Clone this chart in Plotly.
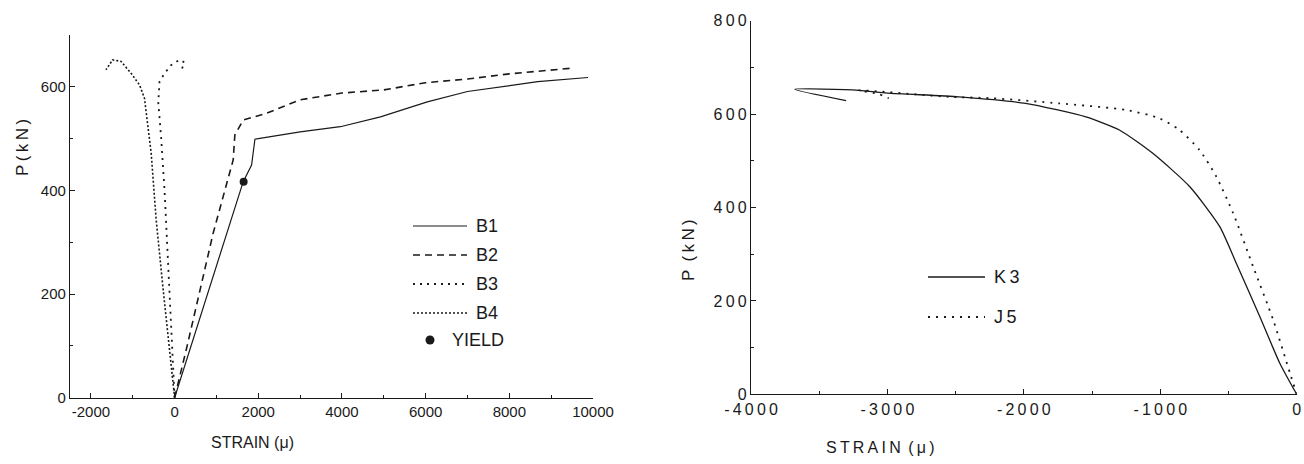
import plotly.graph_objects as go

# ---- Left panel: specimens B1-B4 ----
b1_strain = [0, 400, 800, 1250, 1640, 1840, 1920, 2000, 3000, 3960, 4920, 6040, 7000, 8680, 9880]
b1_load = [0, 102, 204, 317, 417, 449, 499, 500, 513, 523, 542, 571, 591, 610, 618]

b2_strain = [0, 300, 920, 1400, 1440, 1640, 2200, 3000, 4000, 5000, 6000, 7000, 8000, 9500]
b2_load = [0, 100, 317, 459, 507, 536, 549, 575, 588, 594, 608, 615, 625, 636]

b3_strain = [0, -60, -150, -240, -320, -390, -360, -240, -80, 120, 240, 160]
b3_load = [0, 100, 250, 400, 500, 570, 610, 626, 642, 652, 647, 632]

b4_strain = [0, -160, -280, -440, -560, -720, -840, -1040, -1280, -1480, -1640]
b4_load = [0, 118, 214, 343, 472, 578, 604, 626, 649, 652, 633]

yield_strain = [1650]
yield_load = [417]

# ---- Right panel: specimens K3, J5 ----
k3_strain = [0, -123, -270, -442, -564, -785, -1055, -1300, -1545, -1987, -2478, -3000, -3210, -3679, -3303]
k3_load = [0, 66, 166, 280, 359, 445, 516, 566, 594, 623, 637, 645, 651, 653, 629]

j5_strain = [0, -49, -172, -319, -466, -589, -712, -859, -1006, -1251, -1742, -2233, -2550, -3041, -3210, -3064, -2990]
j5_load = [0, 45, 159, 273, 388, 466, 523, 566, 591, 609, 623, 634, 637, 648, 651, 643, 634]

# tick values and labels
left_xticks = [-2000, 0, 2000, 4000, 6000, 8000, 10000]
left_yticks = [0, 200, 400, 600]
right_xticks = [-4000, -3000, -2000, -1000, 0]
right_yticks = [0, 200, 400, 600, 800]

THIN = "\u2009"
GAP = "\u00a0\u2009"


def spaced(s):
    # letter-spaced label text; word breaks become a wider gap
    return GAP.join(THIN.join(word) for word in s.split(" "))


INK = "#1a1a1a"
FONT = "Liberation Sans, Arial, sans-serif"
W, H = 1304, 464


def px(x):
    return x / W


def py(y):
    return 1 - y / H


fig = go.Figure()

B1_LINE = dict(color=INK, width=1.2)
B2_LINE = dict(color=INK, width=1.6, dash="7px,5px")
B3_LINE = dict(color=INK, width=1.8, dash="2px,5px")
B4_LINE = dict(color=INK, width=1.6, dash="2px,2px")
K3_LINE = dict(color=INK, width=1.3, shape="spline", smoothing=0.6)
J5_LINE = dict(color=INK, width=1.8, dash="2px,6px", shape="spline", smoothing=0.6)

fig.add_trace(go.Scatter(x=b1_strain, y=b1_load, mode="lines", name="B1",
                         line=B1_LINE, xaxis="x", yaxis="y"))
fig.add_trace(go.Scatter(x=b2_strain, y=b2_load, mode="lines", name="B2",
                         line=B2_LINE, xaxis="x", yaxis="y"))
fig.add_trace(go.Scatter(x=b3_strain, y=b3_load, mode="lines", name="B3",
                         line=B3_LINE, xaxis="x", yaxis="y"))
fig.add_trace(go.Scatter(x=b4_strain, y=b4_load, mode="lines", name="B4",
                         line=B4_LINE, xaxis="x", yaxis="y"))
fig.add_trace(go.Scatter(x=yield_strain, y=yield_load, mode="markers", name="YIELD",
                         marker=dict(color=INK, size=8), xaxis="x", yaxis="y"))

fig.add_trace(go.Scatter(x=k3_strain, y=k3_load, mode="lines", name="K3",
                         line=K3_LINE, xaxis="x2", yaxis="y2"))
fig.add_trace(go.Scatter(x=j5_strain, y=j5_load, mode="lines", name="J5",
                         line=J5_LINE, xaxis="x2", yaxis="y2"))

axis_common = dict(
    showline=True, linecolor=INK, linewidth=1.3, showgrid=False, zeroline=False,
    ticks="inside", ticklen=5, tickwidth=1.2, tickcolor=INK, automargin=False,
    fixedrange=True,
)
left_tickfont = dict(family=FONT, size=15, color=INK)
right_tickfont = dict(family=FONT, size=16, color=INK)

fig.update_layout(
    width=W, height=H,
    margin=dict(l=0, r=0, t=0, b=0, autoexpand=False),
    paper_bgcolor="white", plot_bgcolor="white",
    showlegend=False,
    xaxis=dict(axis_common, domain=[px(70), px(593)], range=[-2500, 10000],
               tickvals=left_xticks, ticktext=[str(v) for v in left_xticks],
               tickfont=left_tickfont, anchor="y",
               minor=dict(ticks="inside", dtick=1000, tick0=0, ticklen=3, tickcolor=INK)),
    yaxis=dict(axis_common, domain=[py(397.7), py(35)], range=[0, 700],
               tickvals=left_yticks, ticktext=[str(v) for v in left_yticks],
               tickfont=left_tickfont, anchor="x",
               minor=dict(ticks="inside", dtick=100, tick0=0, ticklen=3, tickcolor=INK)),
    xaxis2=dict(axis_common, domain=[px(751), px(1296.7)], range=[-4000, 0],
                tickvals=right_xticks, ticktext=[spaced(str(v)) for v in right_xticks],
                tickfont=right_tickfont, anchor="y2",
                minor=dict(ticks="inside", dtick=500, tick0=0, ticklen=3, tickcolor=INK)),
    yaxis2=dict(axis_common, domain=[py(394.3), py(20.7)], range=[0, 800],
                tickvals=right_yticks, ticktext=[spaced(str(v)) for v in right_yticks],
                tickfont=right_tickfont, anchor="x2",
                minor=dict(ticks="inside", dtick=100, tick0=0, ticklen=3, tickcolor=INK)),
)


def label(text, x, y, size, angle=0, xanchor="center"):
    fig.add_annotation(text=text, x=px(x), y=py(y), xref="paper", yref="paper",
                       xanchor=xanchor, yanchor="middle", showarrow=False,
                       textangle=angle, font=dict(family=FONT, size=size, color=INK))


# axis titles
label("STRAIN (\u03bc)", 252, 442, 16)
label(spaced("P(kN)"), 22, 148, 17, angle=-90)
label(spaced("STRAIN (\u03bc)"), 880, 447, 16)
label(spaced("P (kN)"), 688, 250, 17, angle=-90)

# legend keys: left panel
left_keys = [("B1", 226, B1_LINE), ("B2", 255, B2_LINE), ("B3", 284, B3_LINE), ("B4", 313, B4_LINE)]
for name, yy, ln in left_keys:
    fig.add_shape(type="line", xref="paper", yref="paper",
                  x0=px(413), x1=px(467), y0=py(yy), y1=py(yy), line=ln)
    label(name, 474, yy, 18, xanchor="left")
fig.add_shape(type="circle", xref="paper", yref="paper",
              x0=px(425.5), x1=px(434.5), y0=py(344.5), y1=py(335.5),
              fillcolor=INK, line=dict(color=INK, width=0))
label("YIELD", 450, 340, 18, xanchor="left")

# legend keys: right panel
right_keys = [("K3", 277, dict(color=INK, width=1.3)), ("J5", 317, dict(color=INK, width=1.8, dash="2px,6px"))]
for name, yy, ln in right_keys:
    fig.add_shape(type="line", xref="paper", yref="paper",
                  x0=px(928), x1=px(985), y0=py(yy), y1=py(yy), line=ln)
    label(spaced(name), 992, yy, 18, xanchor="left")

fig.write_html("out.html")
